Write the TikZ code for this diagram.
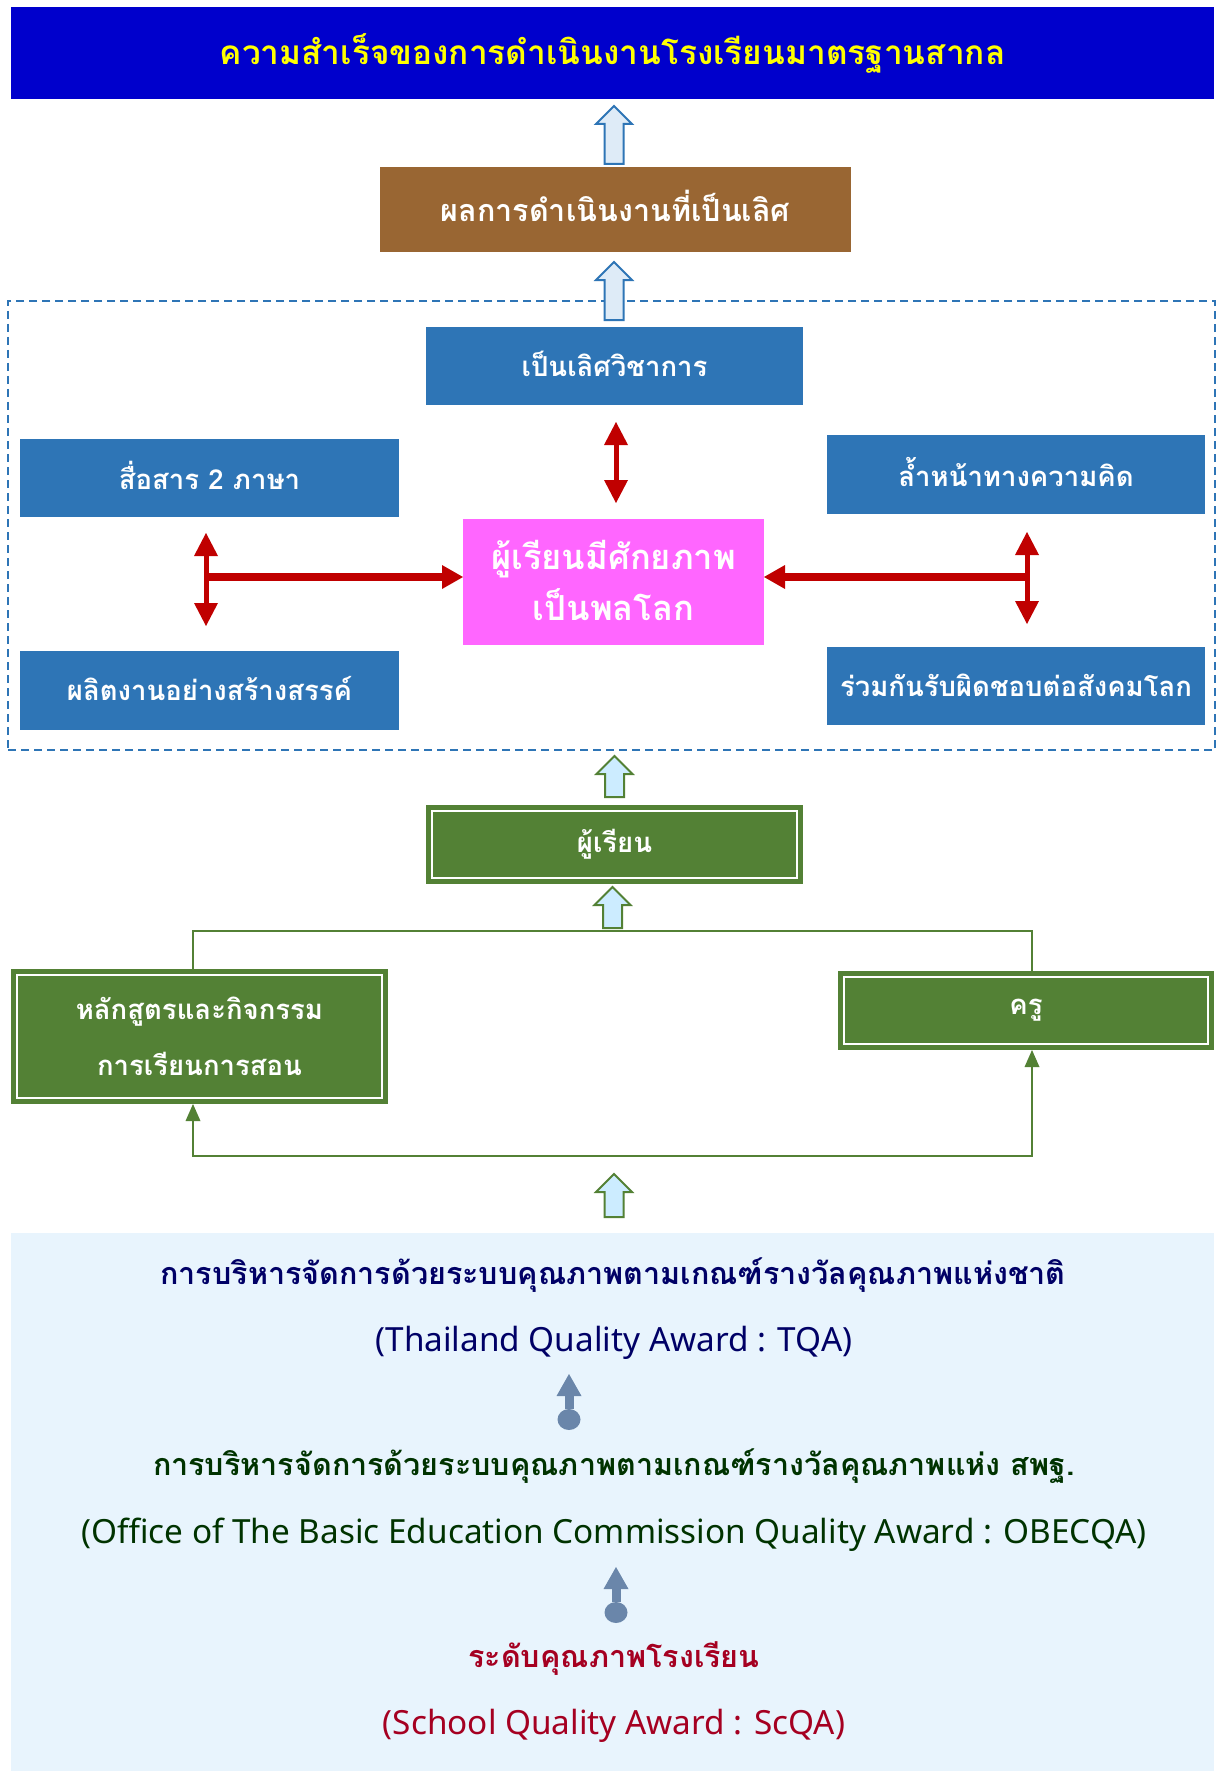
\documentclass[tikz,border=0pt]{standalone}
\usepackage{fontspec}
\setmainfont{Noto Sans}
\newfontfamily\thai[Script=Thai]{Loma}
\usetikzlibrary{calc,arrows.meta}
\definecolor{titleblue}{HTML}{0000CC}
\definecolor{titleyellow}{HTML}{FFFF00}
\definecolor{brownbox}{HTML}{996633}
\definecolor{boxblue}{HTML}{2E75B6}
\definecolor{arrowfill}{HTML}{DEEBF7}
\definecolor{pinkbox}{HTML}{FF66FF}
\definecolor{gbox}{HTML}{538135}
\definecolor{garrowfill}{HTML}{CCECFF}
\definecolor{darkred}{HTML}{C00000}
\definecolor{bgblue}{HTML}{E8F4FD}
\definecolor{navytext}{HTML}{000066}
\definecolor{greentext}{HTML}{003300}
\definecolor{crimsontext}{HTML}{A50021}
\definecolor{pincol}{HTML}{6A86AA}
\newcommand\blockup[3]{%
  \draw[#1] let \p1=#2, \p2=#3 in
    (\x1-9.5pt,\y1) -- (\x1-9.5pt,\y2-18pt) -- (\x1-18pt,\y2-18pt) -- (\x1,\y2)
    -- (\x1+18pt,\y2-18pt) -- (\x1+9.5pt,\y2-18pt) -- (\x1+9.5pt,\y1) -- cycle;}
\newcommand\lift[2]{\raisebox{#1}{#2}}
\begin{document}
\begin{tikzpicture}[x=1pt,y=-1pt,
  every node/.style={inner sep=0pt,outer sep=0pt},
  box/.style={fill=boxblue,align=center,text=white,font=\thai\bfseries\fontsize{27.5}{34}\selectfont},
  gbox/.style={fill=gbox,align=center,text=white,font=\thai\bfseries\fontsize{27.5}{34}\selectfont},
  barrow/.style={draw=boxblue,fill=arrowfill,line width=2pt,line join=miter},
  garrow/.style={draw=gbox,fill=garrowfill,line width=2pt,line join=miter},
  redV/.style={draw=darkred,line width=5pt,arrows={Triangle[length=23pt,width=24pt,line width=0pt]-Triangle[length=23pt,width=24pt,line width=0pt]}},
  redH/.style={draw=darkred,line width=8pt,arrows={-Triangle[length=21pt,width=24pt,line width=0pt]}},
  gline/.style={draw=gbox,line width=2pt},
  pin/.style={draw=pincol,line width=9pt,arrows={Circle[length=21pt,width=23pt,line width=0pt]-Triangle[length=22pt,width=25pt,line width=0pt]}},
  thaiB/.style={font=\thai\bfseries\fontsize{30.5}{36}\selectfont},
  engT/.style={font=\fontsize{33.3}{40}\selectfont}]
\useasboundingbox (0,0) rectangle (1217,1771);
\fill[white] (0,0) rectangle (1217,1771);
% top
\node[fill=titleblue,minimum width=1203,minimum height=92,text=titleyellow,font=\thai\bfseries\fontsize{33.4}{40}\selectfont] (title) at (612.5,53) {\lift{1.5pt}{ความสำเร็จของการดำเนินงานโรงเรียนมาตรฐานสากล}};
\node[fill=brownbox,minimum width=471,minimum height=85,text=white,font=\thai\bfseries\fontsize{30.5}{36}\selectfont] (brown) at (615.5,209.5) {\lift{7.5pt}{ผลการดำเนินงานที่เป็นเลิศ}};
% dashed frame
\node[draw=boxblue,line width=2pt,dash pattern=on 8pt off 5pt,minimum width=1207,minimum height=449] (frame) at (611.5,525.5) {};
\node[box,minimum width=377,minimum height=78] (acad) at (614.5,366) {\lift{4.5pt}{เป็นเลิศวิชาการ}};
\node[box,minimum width=379,minimum height=78] (lang) at (209.5,478) {\lift{5pt}{สื่อสาร 2 ภาษา}};
\node[box,minimum width=378,minimum height=79] (think) at (1016,474.5) {\lift{5pt}{ล้ำหน้าทางความคิด}};
\node[box,minimum width=379,minimum height=79] (create) at (209.5,690.5) {\lift{3.5pt}{ผลิตงานอย่างสร้างสรรค์}};
\node[box,minimum width=378,minimum height=78] (social) at (1016,686) {\lift{2.5pt}{ร่วมกันรับผิดชอบต่อสังคมโลก}};
\node[fill=pinkbox,minimum width=301,minimum height=126,align=center,text=white,font=\thai\bfseries\fontsize{34.5}{51}\selectfont] (pink) at (613.5,582) {\lift{3pt}{ผู้เรียนมีศักยภาพ}\\\lift{3pt}{เป็นพลโลก}};
% block arrows top
\blockup{barrow}{($(brown.north)+(-1.5,-3)$)}{($(title.south)+(1.5,7)$)}
\blockup{barrow}{($(frame.north)+(2.5,19)$)}{($(brown.south)+(-1.5,10)$)}
% red arrows
\draw[redV] ($(acad.south)+(1.5,17)$) -- ($(pink.north)+(2.5,-16)$);
\coordinate (jL) at ($(lang.south)+(-3.5,60)$);
\coordinate (jR) at ($(think.south)+(11,63)$);
\draw[redV] ($(lang.south)+(-3.5,16)$) -- ($(create.north)+(-3.5,-25)$);
\draw[redV] ($(think.south)+(11,18)$) -- ($(social.north)+(11,-23)$);
\draw[redH] (jL) -- (pink.west |- jL);
\draw[redH] (jR) -- (pink.east |- jR);
% green part
\node[gbox,minimum width=377,minimum height=79] (learner) at (614.5,844.5) {ผู้เรียน};
\node[gbox,minimum width=377,minimum height=135,font=\thai\bfseries\fontsize{27.5}{56}\selectfont] (curr) at (199.5,1036.5) {\lift{1.5pt}{หลักสูตรและกิจกรรม}\\\lift{1.5pt}{การเรียนการสอน}};
\node[gbox,minimum width=376,minimum height=79] (teacher) at (1026,1010.5) {\lift{-3pt}{ครู}};
\foreach \n in {learner,curr,teacher}
  \draw[white,line width=1.5pt] ($(\n.north west)+(6,6)$) rectangle ($(\n.south east)+(-6,-6)$);
\blockup{garrow}{($(learner.north)+(0,-8)$)}{($(frame.south)+(3,6)$)}
\coordinate (tl) at (193,931);
\coordinate (tr) at (1032,931);
\draw[gline] (tl |- curr.north) -- (tl) -- (tr) -- (tr |- teacher.north);
\blockup{garrow}{($(tl)!0.5!(tr)+(0,-3)$)}{($(learner.south)+(0,3)$)}
\coordinate (bl) at (193,1156);
\coordinate (br) at (1032,1156);
\draw[gline,arrows={Triangle[length=17pt,width=15pt,line width=0pt]-Triangle[length=17pt,width=15pt,line width=0pt]}] (curr.south -| bl) -- (bl) -- (br) -- (teacher.south -| br);
% bottom panel
\node[fill=bgblue,minimum width=1203,minimum height=538] (bg) at (612.5,1502) {};
\blockup{garrow}{($(bg.north)+(1.5,-16)$)}{($(bl)!0.5!(br)+(0,18)$)}
\node[thaiB,text=navytext] (t1) at (613,1275) {การบริหารจัดการด้วยระบบคุณภาพตามเกณฑ์รางวัลคุณภาพแห่งชาติ};
\node[engT,text=navytext] (t2) at (614,1342.5) {(Thailand Quality Award : TQA)};
\node[thaiB,text=greentext] (t3) at (614,1466) {การบริหารจัดการด้วยระบบคุณภาพตามเกณฑ์รางวัลคุณภาพแห่ง สพฐ.};
\node[engT,text=greentext] (t4) at (614,1534.5) {(Office of The Basic Education Commission Quality Award : OBECQA)};
\node[thaiB,text=crimsontext] (t5) at (614,1659) {ระดับคุณภาพโรงเรียน};
\node[engT,text=crimsontext] (t6) at (614,1725.5) {(School Quality Award : ScQA)};
\coordinate (p1b) at (569,1430);
\coordinate (p1t) at (569,1374);
\coordinate (p2b) at (616,1623);
\coordinate (p2t) at (616,1567);
\draw[pin] (p1b) -- (p1t);
\draw[pin] (p2b) -- (p2t);
\end{tikzpicture}
\end{document}
